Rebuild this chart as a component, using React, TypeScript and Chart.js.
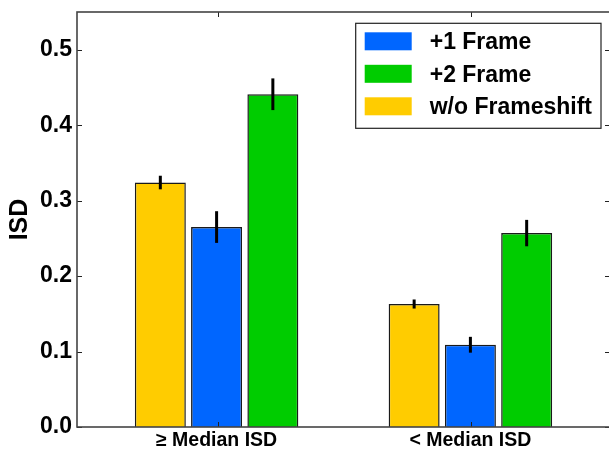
import React, { useEffect, useRef } from 'react';
import { Chart, registerables } from 'chart.js';

Chart.register(...registerables);

// ---- data ----
const categories = [0, 1];
const categoryLabels = ['≥ Median ISD', '< Median ISD'];
const seriesNames = ['w/o Frameshift', '+1 Frame', '+2 Frame'];
const seriesColors = ['#FFCC00', '#0066FF', '#00CC00'];
const noShiftValues = [0.324, 0.163];
const noShiftErrors = [0.009, 0.006];
const plus1Values = [0.265, 0.109];
const plus1Errors = [0.021, 0.0105];
const plus2Values = [0.441, 0.257];
const plus2Errors = [0.021, 0.0175];
const yTickValues = [0, 0.1, 0.2, 0.3, 0.4, 0.5];
const legendOrder = [1, 2, 0];

const FONT = "'Liberation Sans', Arial, Helvetica, sans-serif";

const frameTicksPlugin = {
  id: 'frameTicks',
  afterDatasetsDraw(chart: any) {
    const { ctx, chartArea } = chart;
    const xs = chart.scales.x;
    const ys = chart.scales.y;
    ctx.save();
    ctx.strokeStyle = '#222';
    ctx.lineWidth = 1;
    ctx.beginPath();
    yTickValues.forEach((v) => {
      const py = Math.round(ys.getPixelForValue(v)) + 0.5;
      ctx.moveTo(chartArea.left, py);
      ctx.lineTo(chartArea.left + 5, py);
      ctx.moveTo(chartArea.right, py);
      ctx.lineTo(chartArea.right - 5, py);
    });
    categories.forEach((v) => {
      const px = Math.round(xs.getPixelForValue(v)) + 1.5;
      ctx.moveTo(px, chartArea.bottom);
      ctx.lineTo(px, chartArea.bottom - 5);
      ctx.moveTo(px, chartArea.top);
      ctx.lineTo(px, chartArea.top + 5);
    });
    ctx.stroke();
    ctx.strokeStyle = '#444';
    ctx.lineWidth = 1.6;
    ctx.strokeRect(chartArea.left, chartArea.top, chartArea.right - chartArea.left, chartArea.bottom - chartArea.top);
    ctx.restore();
  },
};

const errorBarPlugin = {
  id: 'errorBars',
  afterDatasetsDraw(chart: any) {
    const { ctx } = chart;
    const ys = chart.scales.y;
    ctx.save();
    ctx.strokeStyle = '#000';
    ctx.lineWidth = 3;
    chart.data.datasets.forEach((ds: any, i: number) => {
      const meta = chart.getDatasetMeta(i);
      meta.data.forEach((el: any, j: number) => {
        const v = ds.data[j].y;
        const e = ds.errors[j];
        ctx.beginPath();
        ctx.moveTo(el.x, ys.getPixelForValue(v - e));
        ctx.lineTo(el.x, ys.getPixelForValue(v + e));
        ctx.stroke();
      });
    });
    ctx.restore();
  },
};

const boxLegendPlugin = {
  id: 'boxLegend',
  afterDraw(chart: any) {
    const { ctx, chartArea } = chart;
    const ds = chart.data.datasets;
    ctx.save();
    ctx.font = `bold 23px ${FONT}`;
    const textW = Math.max(...legendOrder.map((i) => ctx.measureText(ds[i].label).width));
    const padL = 9;
    const sw = 47;
    const gap = 18;
    const padR = 9;
    const rowH = 32.5;
    const boxW = padL + sw + gap + textW + padR;
    const boxH = 105;
    const right = chartArea.right - 9;
    const left = right - boxW;
    const top = chartArea.top + 11.3;
    ctx.fillStyle = '#fff';
    ctx.fillRect(left, top, boxW, boxH);
    ctx.strokeStyle = '#222';
    ctx.lineWidth = 1.2;
    ctx.strokeRect(left, top, boxW, boxH);
    legendOrder.forEach((i, r) => {
      const cy = top + 18 + r * rowH;
      ctx.fillStyle = ds[i].backgroundColor;
      ctx.fillRect(left + padL, cy - 9, sw, 18);
      ctx.fillStyle = '#000';
      ctx.textBaseline = 'middle';
      ctx.textAlign = 'left';
      ctx.fillText(ds[i].label, left + padL + sw + gap, cy + 1.5);
    });
    ctx.restore();
  },
};

export default function App() {
  const ref = useRef<HTMLCanvasElement>(null);

  useEffect(() => {
    if (!ref.current) return;
    const mk = (vals: number[]) => categories.map((x, i) => ({ x, y: vals[i] }));
    const chart = new Chart(ref.current, {
      type: 'bar',
      data: {
        datasets: [
          { label: seriesNames[0], data: mk(noShiftValues), errors: noShiftErrors, backgroundColor: seriesColors[0] },
          { label: seriesNames[1], data: mk(plus1Values), errors: plus1Errors, backgroundColor: seriesColors[1] },
          { label: seriesNames[2], data: mk(plus2Values), errors: plus2Errors, backgroundColor: seriesColors[2] },
        ] as any,
      },
      options: {
        responsive: false,
        animation: false,
        devicePixelRatio: 1,
        layout: { padding: { top: 12, right: 2, left: 0, bottom: 0 } },
        datasets: {
          bar: {
            borderColor: '#1a1a1a',
            borderWidth: 1.5,
            categoryPercentage: 0.665,
            barPercentage: 0.906,
          },
        } as any,
        plugins: {
          legend: { display: false },
          tooltip: { enabled: false },
        },
        scales: {
          x: {
            type: 'linear',
            min: -0.55,
            max: 1.55,
            offset: false,
            grid: { display: false, drawTicks: false, offset: false },
            border: { display: false },
            afterBuildTicks: (s: any) => {
              s.ticks = categories.map((v) => ({ value: v }));
            },
            afterFit: (s: any) => {
              s.height = 25;
            },
            ticks: {
              padding: 2,
              color: '#000',
              font: { family: FONT, size: 19.5, weight: 'bold', lineHeight: 1.2 },
              callback: (v: any) => categoryLabels[categories.indexOf(Number(v))] ?? '',
            },
          },
          y: {
            type: 'linear',
            min: 0,
            max: 0.55,
            grid: { display: false, drawTicks: false },
            border: { display: false },
            afterBuildTicks: (s: any) => {
              s.ticks = yTickValues.map((v) => ({ value: v }));
            },
            afterFit: (s: any) => {
              s.width = 77;
            },
            title: {
              display: true,
              text: 'ISD',
              color: '#000',
              font: { family: FONT, size: 25, weight: 'bold', lineHeight: 1.2 },
              padding: { top: 5, bottom: 0 },
            },
            ticks: {
              padding: 5,
              color: '#000',
              font: { family: FONT, size: 23, weight: 'bold', lineHeight: 0.5 },
              callback: (v: any) => Number(v).toFixed(1),
            },
          },
        },
      } as any,
      plugins: [errorBarPlugin, frameTicksPlugin, boxLegendPlugin],
    });
    return () => chart.destroy();
  }, []);

  return (
    <div style={{ position: 'absolute', left: 0, top: 0, width: 609, height: 452, overflow: 'hidden', background: '#fff' }}>
      <canvas ref={ref} width={612} height={452} style={{ display: 'block', width: 612, height: 452 }} />
    </div>
  );
}
